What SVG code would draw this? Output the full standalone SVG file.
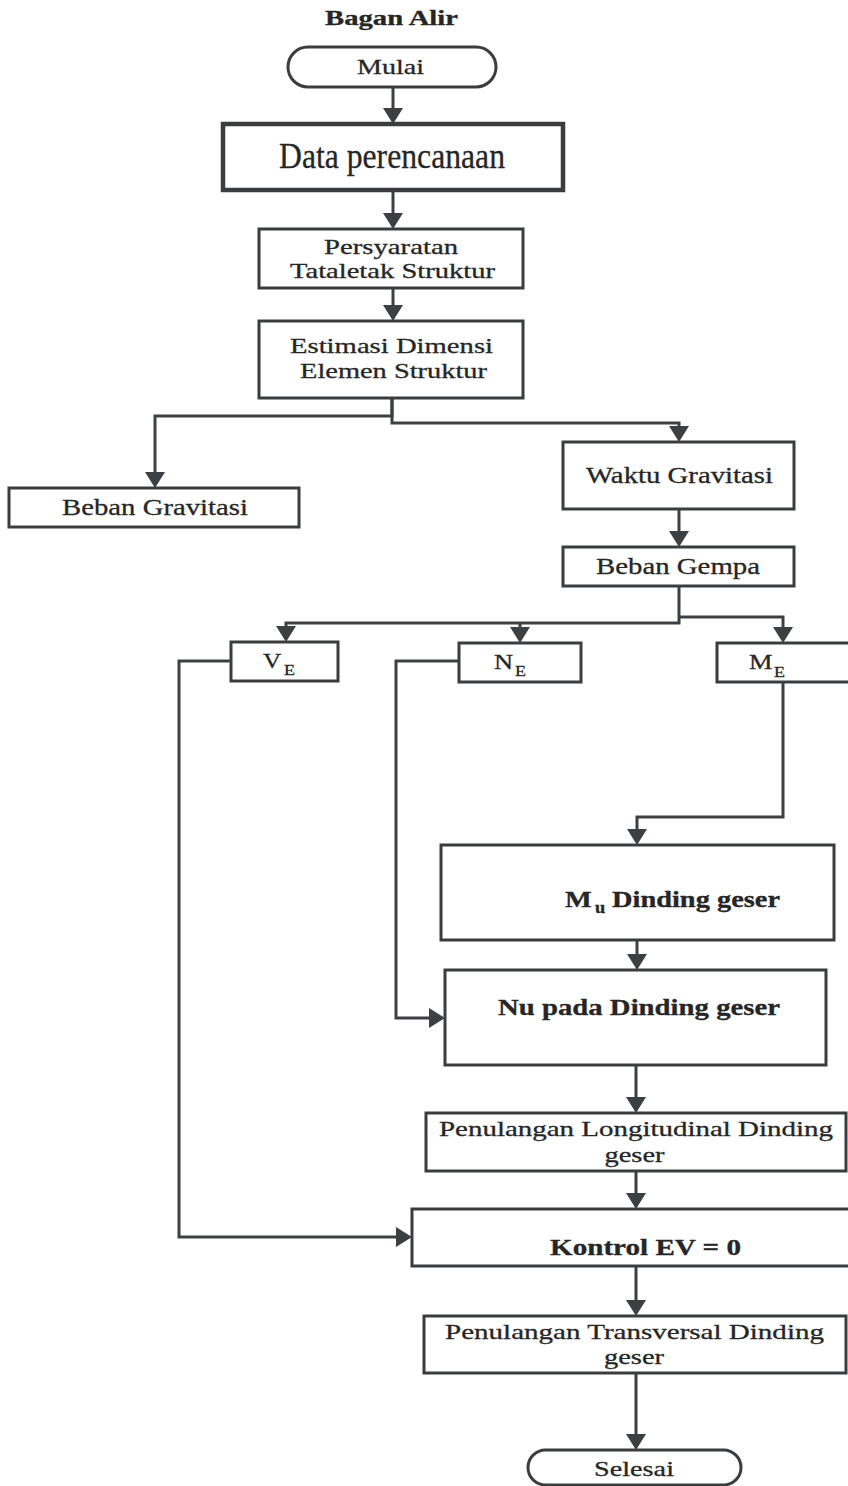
<svg xmlns="http://www.w3.org/2000/svg" width="848" height="1486" viewBox="0 0 848 1486">
<defs>
<marker id="arr" viewBox="0 0 16 20" refX="12" refY="10" markerWidth="16" markerHeight="20" orient="auto" markerUnits="userSpaceOnUse">
<path d="M0,0 L16,10 L0,20 Z" fill="#3d4043"/>
</marker>
<style>
.box{fill:#fff;stroke:#3a3c3f;stroke-width:3}
.thick{stroke-width:4.5}
.t{font-family:"Liberation Serif","Times New Roman",serif;fill:#262626;stroke:#262626;stroke-width:0.3;text-anchor:middle}
.s{text-anchor:start}
.b{font-weight:bold}
.c{fill:none;stroke:#3d4043;stroke-width:3;marker-end:url(#arr)}
</style>
</defs>
<rect width="848" height="1486" fill="#fff"/>

<text class="t b" transform="translate(391.5,25) scale(1.35,1)" font-size="21" textLength="98.5" lengthAdjust="spacingAndGlyphs">Bagan Alir</text>

<g id="mulai">
<rect class="box" x="288" y="47" width="208" height="40" rx="20"/>
<text class="t" transform="translate(390.5,74) scale(1.3,1)" font-size="22" textLength="51.5" lengthAdjust="spacingAndGlyphs">Mulai</text>
</g>
<g id="data">
<rect class="box thick" x="223" y="124" width="340" height="66"/>
<text class="t" transform="translate(392,168) scale(0.88,1)" font-size="36" textLength="256.8" lengthAdjust="spacingAndGlyphs">Data perencanaan</text>
</g>
<g id="persyaratan">
<rect class="box" x="259" y="229" width="264" height="59"/>
<text class="t" transform="translate(391,254) scale(1.3,1)" font-size="22" textLength="103.1" lengthAdjust="spacingAndGlyphs">Persyaratan</text>
<text class="t" transform="translate(392.5,278) scale(1.3,1)" font-size="22" textLength="157.7" lengthAdjust="spacingAndGlyphs">Tataletak Struktur</text>
</g>
<g id="estimasi">
<rect class="box" x="259" y="321" width="264" height="77"/>
<text class="t" transform="translate(391.5,353) scale(1.3,1)" font-size="22" textLength="156.2" lengthAdjust="spacingAndGlyphs">Estimasi Dimensi</text>
<text class="t" transform="translate(393.5,378) scale(1.3,1)" font-size="22" textLength="143.8" lengthAdjust="spacingAndGlyphs">Elemen Struktur</text>
</g>
<g id="beban-gravitasi">
<rect class="box" x="9" y="488" width="290" height="39"/>
<text class="t" transform="translate(155,515) scale(1.2,1)" font-size="24" textLength="155" lengthAdjust="spacingAndGlyphs">Beban Gravitasi</text>
</g>
<g id="waktu-gravitasi">
<rect class="box" x="563" y="442" width="231" height="67"/>
<text class="t" transform="translate(679.5,483) scale(1.235,1)" font-size="23" textLength="151.4" lengthAdjust="spacingAndGlyphs">Waktu Gravitasi</text>
</g>
<g id="beban-gempa">
<rect class="box" x="563" y="547" width="231" height="39"/>
<text class="t" transform="translate(678,574) scale(1.25,1)" font-size="23" textLength="131.2" lengthAdjust="spacingAndGlyphs">Beban Gempa</text>
</g>
<g id="ve">
<rect class="box" x="231" y="642" width="107" height="39"/>
<text class="t s" transform="translate(263,668) scale(1.15,1)" font-size="22">V</text>
<text class="t s" transform="translate(284,675) scale(1.2,1)" font-size="15">E</text>
</g>
<g id="ne">
<rect class="box" x="459" y="643" width="122" height="39"/>
<text class="t s" transform="translate(494,669) scale(1.2,1)" font-size="22">N</text>
<text class="t s" transform="translate(515,676) scale(1.2,1)" font-size="15">E</text>
</g>
<g id="me">
<rect class="box" x="717" y="643" width="135" height="39"/>
<text class="t s" transform="translate(749,669) scale(1.2,1)" font-size="22">M</text>
<text class="t s" transform="translate(774,677) scale(1.2,1)" font-size="15">E</text>
</g>
<g id="mu">
<rect class="box" x="441" y="845" width="393" height="95"/>
<text class="t b s" transform="translate(565,907) scale(1.18,1)" font-size="24">M</text>
<text class="t b s" transform="translate(595,913) scale(1.15,1)" font-size="16">u</text>
<text class="t b s" transform="translate(612,907) scale(1.18,1)" font-size="24" textLength="142.4" lengthAdjust="spacingAndGlyphs">Dinding geser</text>
</g>
<g id="nu">
<rect class="box" x="445" y="970" width="381" height="95"/>
<text class="t b" transform="translate(639,1015) scale(1.2,1)" font-size="24" textLength="235" lengthAdjust="spacingAndGlyphs">Nu pada Dinding geser</text>
</g>
<g id="longitudinal">
<rect class="box" x="426" y="1113" width="420" height="58"/>
<text class="t" transform="translate(636,1136) scale(1.32,1)" font-size="22" textLength="298.5" lengthAdjust="spacingAndGlyphs">Penulangan Longitudinal Dinding</text>
<text class="t" transform="translate(634.5,1162) scale(1.3,1)" font-size="22" textLength="46.2" lengthAdjust="spacingAndGlyphs">geser</text>
</g>
<g id="kontrol">
<rect class="box" x="412" y="1209" width="440" height="57"/>
<text class="t b" transform="translate(645.5,1255) scale(1.26,1)" font-size="23" textLength="151.6" lengthAdjust="spacingAndGlyphs">Kontrol EV = 0</text>
</g>
<g id="transversal">
<rect class="box" x="424" y="1316" width="422" height="57"/>
<text class="t" transform="translate(634.5,1339) scale(1.32,1)" font-size="22" textLength="287.1" lengthAdjust="spacingAndGlyphs">Penulangan Transversal Dinding</text>
<text class="t" transform="translate(634,1364) scale(1.3,1)" font-size="22" textLength="46.2" lengthAdjust="spacingAndGlyphs">geser</text>
</g>
<g id="selesai">
<rect class="box" x="528" y="1450" width="213" height="35" rx="17.5"/>
<text class="t" transform="translate(634,1476) scale(1.3,1)" font-size="22" textLength="61.5" lengthAdjust="spacingAndGlyphs">Selesai</text>
</g>

<g id="connectors">
<path class="c" d="M393,87 V120"/>
<path class="c" d="M393,190 V225"/>
<path class="c" d="M393,288 V317"/>
<path class="c" d="M392,398 V416 H155 V484"/>
<path class="c" d="M392,398 V423 H679 V438"/>
<path class="c" d="M679,509 V543"/>
<path class="c" d="M679,586 V623 H286 V638"/>
<path class="c" d="M520,623 V639"/>
<path class="c" d="M679,617 H783 V639"/>
<path class="c" d="M783,682 V817 H637 V841"/>
<path class="c" d="M637,940 V966"/>
<path class="c" d="M459,661 H396 V1018 H441"/>
<path class="c" d="M636,1065 V1109"/>
<path class="c" d="M636,1171 V1205"/>
<path class="c" d="M231,661 H179 V1237 H408"/>
<path class="c" d="M636,1266 V1312"/>
<path class="c" d="M636,1373 V1446"/>
</g>
</svg>
